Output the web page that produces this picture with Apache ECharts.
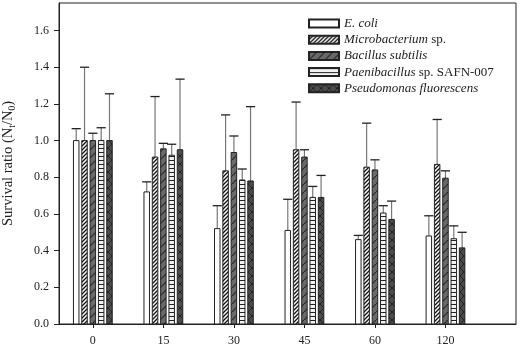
<!DOCTYPE html>
<html><head><meta charset="utf-8">
<script src="https://cdn.jsdelivr.net/npm/echarts@6/dist/echarts.min.js"></script>
<style>html,body{margin:0;padding:0;background:#fff}#c{width:521px;height:356px}</style>
</head><body><div id="c"></div>
<script>
const categories = ['0', '15', '30', '45', '60', '120'];
const seriesNames = ['E. coli', 'Microbacterium sp.', 'Bacillus subtilis', 'Paenibacillus sp. SAFN-007', 'Pseudomonas fluorescens'];
const ecoli      = [1.00, 0.72, 0.52, 0.51, 0.46, 0.48];
const ecoliErr   = [0.065, 0.055, 0.125, 0.17, 0.023, 0.11];
const micro      = [1.00, 0.91, 0.835, 0.95, 0.855, 0.87];
const microErr   = [0.40, 0.33, 0.305, 0.26, 0.24, 0.245];
const bacillus   = [1.00, 0.955, 0.935, 0.91, 0.84, 0.795];
const bacillusErr= [0.04, 0.03, 0.09, 0.04, 0.055, 0.04];
const paeni      = [1.00, 0.92, 0.785, 0.69, 0.605, 0.465];
const paeniErr   = [0.07, 0.06, 0.06, 0.06, 0.04, 0.07];
const pseudo     = [1.00, 0.95, 0.78, 0.69, 0.57, 0.415];
const pseudoErr  = [0.255, 0.385, 0.405, 0.12, 0.10, 0.085];
const yTicks = [0, 0.2, 0.4, 0.6, 0.8, 1.0, 1.2, 1.4, 1.6];

const values = [ecoli, micro, bacillus, paeni, pseudo];
const errors = [ecoliErr, microErr, bacillusErr, paeniErr, pseudoErr];

function pat(w, h, bg, draw) {
  const c = document.createElement('canvas');
  c.width = w; c.height = h;
  const ctx = c.getContext('2d');
  ctx.fillStyle = bg; ctx.fillRect(0, 0, w, h);
  draw(ctx, w, h);
  return { image: c, repeat: 'repeat' };
}
const patterns = [
  '#ffffff',
  pat(4, 4, '#ffffff', (x) => { x.strokeStyle = '#111'; x.lineWidth = 1.3; x.beginPath();
    x.moveTo(-1, 5); x.lineTo(5, -1); x.moveTo(-1, 1); x.lineTo(1, -1); x.moveTo(3, 5); x.lineTo(5, 3); x.stroke(); }),
  pat(8, 8, '#6a6a6a', (x) => { x.strokeStyle = '#2a2a2a'; x.lineWidth = 1.2; x.beginPath();
    x.moveTo(-1, 9); x.lineTo(9, -1); x.stroke(); }),
  pat(4, 4, '#f2f2f2', (x) => { x.fillStyle = '#222'; x.fillRect(0, 0, 4, 1); }),
  pat(8, 8, '#4c4c4c', (x) => { x.strokeStyle = '#222'; x.lineWidth = 1; x.beginPath();
    x.moveTo(0, 0); x.lineTo(8, 8); x.moveTo(8, 0); x.lineTo(0, 8); x.stroke(); })
];
const offsets = [-2, -1, 0, 1, 2];

function renderItem(params, api) {
  const si = params.seriesIndex;
  const xi = api.value(0), v = api.value(1), e = api.value(2);
  const unit = api.size([1, 0])[0];
  const base = api.coord([xi, 0]);
  const cx = base[0] + offsets[si] * 0.118 * unit;
  const y0 = base[1];
  const yv = api.coord([xi, v])[1];
  const ye = api.coord([xi, v + e])[1];
  const bw = 0.078 * unit, cap = 0.13 * unit;
  return { type: 'group', children: [
    { type: 'line', shape: { x1: cx, y1: yv, x2: cx, y2: ye }, style: { stroke: '#777', lineWidth: 1.2 } },
    { type: 'line', shape: { x1: cx - cap / 2, y1: ye, x2: cx + cap / 2, y2: ye }, style: { stroke: '#222', lineWidth: 1.3 } },
    { type: 'rect', shape: { x: cx - bw / 2, y: yv, width: bw, height: y0 - yv },
      style: { fill: patterns[si], stroke: '#222', lineWidth: 1 } }
  ]};
}

const legendFmt = {
  'E. coli': '{i|E. coli}',
  'Microbacterium sp.': '{i|Microbacterium} {n|sp.}',
  'Bacillus subtilis': '{i|Bacillus subtilis}',
  'Paenibacillus sp. SAFN-007': '{i|Paenibacillus} {n|sp. SAFN-007}',
  'Pseudomonas fluorescens': '{i|Pseudomonas fluorescens}'
};
const font = 'Liberation Serif';

const chart = echarts.init(document.getElementById('c'), null, { renderer: 'canvas' });
chart.setOption({
  animation: false,
  backgroundColor: '#fff',
  grid: { left: 59, right: 5, top: 3, bottom: 32, outerBoundsMode: 'none', containLabel: false,
    show: true, borderColor: '#222', borderWidth: 1, backgroundColor: 'transparent' },
  legend: {
    orient: 'vertical', left: 303, top: 11.5, icon: 'rect', itemWidth: 30, itemHeight: 8, itemGap: 2.2,
    data: seriesNames,
    formatter: (n) => legendFmt[n],
    textStyle: { fontFamily: font, fontSize: 13, color: '#222', lineHeight: 14,
      rich: { i: { fontFamily: font, fontStyle: 'italic', fontSize: 13, color: '#222' },
              n: { fontFamily: font, fontSize: 13, color: '#222' } } }
  },
  xAxis: {
    type: 'value', min: -0.48, max: 6,
    splitLine: { show: false },
    axisLine: { onZero: false, lineStyle: { color: '#222' } },
    axisTick: { show: true, length: 4, customValues: [0, 1, 2, 3, 4, 5], lineStyle: { color: '#222' } },
    axisLabel: { customValues: [0, 1, 2, 3, 4, 5], formatter: (v) => categories[Math.round(v)],
      margin: 11, fontFamily: font, fontSize: 12, color: '#222' }
  },
  yAxis: {
    type: 'value', min: 0, max: 1.75,
    name: '{a|Survival ratio (N}{s|t}{a|/N}{s|0}{a|)}',
    nameLocation: 'middle', nameGap: 42,
    nameTextStyle: { rich: {
      a: { fontFamily: font, fontSize: 14.5, color: '#222', lineHeight: 18 },
      s: { fontFamily: font, fontSize: 9.5, color: '#222', lineHeight: 18, padding: [8, 0, 0, 0] } } },
    splitLine: { show: false },
    axisLine: { show: true, onZero: false, lineStyle: { color: '#222' } },
    axisTick: { show: true, length: 5, customValues: yTicks, lineStyle: { color: '#222' } },
    axisLabel: { customValues: yTicks, formatter: (v) => v.toFixed(1), margin: 10,
      fontFamily: font, fontSize: 12, color: '#222' }
  },
  series: seriesNames.map((name, si) => ({
    name, type: 'custom', renderItem,
    itemStyle: { color: patterns[si], borderColor: '#222', borderWidth: 1 },
    encode: { x: 0, y: [1, 2] },
    data: categories.map((c, i) => [i, values[si][i], errors[si][i]])
  }))
});
</script></body></html>
